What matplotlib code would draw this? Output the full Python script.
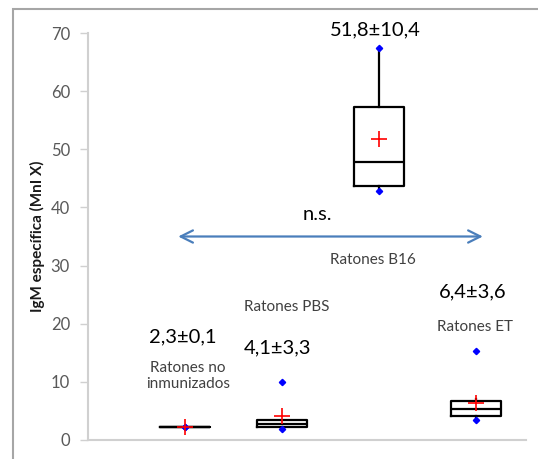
import matplotlib
matplotlib.use("Agg")
import matplotlib.pyplot as plt
from matplotlib.patches import Rectangle

# Box statistics per group
groups = ["Ratones no\ninmunizados", "Ratones PBS", "Ratones B16", "Ratones ET"]
q1 = [2.3, 2.2, 43.7, 4.1]
med = [2.3, 2.8, 47.8, 5.3]
q3 = [2.3, 3.5, 57.3, 6.7]
whisk_lo = [2.3, 1.9, 42.9, 3.4]
whisk_hi = [2.3, 3.5, 67.5, 7.0]
means = [2.3, 4.1, 51.8, 6.4]
sds = [0.1, 3.3, 10.4, 3.6]
# min / max points (blue)
min_pts = [2.3, 1.9, 42.9, 3.4]
max_pts = [2.3, 10.0, 67.5, 15.3]

positions = [1, 2, 3, 4]
mean_labels = [f"{m:.1f}±{s:.1f}".replace(".", ",") for m, s in zip(means, sds)]

plt.rcParams['font.family'] = ['Lato', 'DejaVu Sans']

fig = plt.figure(figsize=(5.38, 4.59), dpi=100)
ax = fig.add_axes([88 / 538, 1 - 440 / 459, (526 - 88) / 538, (440 - 33) / 459])

stats = []
for i in range(4):
    stats.append(dict(med=med[i], q1=q1[i], q3=q3[i], whislo=whisk_lo[i],
                      whishi=whisk_hi[i], fliers=[]))

ax.bxp(stats, positions=positions, widths=0.515, showfliers=False, showcaps=False,
       boxprops=dict(color="black", lw=1.6),
       medianprops=dict(color="black", lw=1.6),
       whiskerprops=dict(color="black", lw=1.6))

ax.plot(positions, min_pts, "D", color="#0000ff", ms=3.2, zorder=4)
ax.plot(positions, max_pts, "D", color="#0000ff", ms=3.2, zorder=4)
ax.plot(positions, means, "+", color="#ff0000", ms=11, mew=1.2, zorder=5)

ax.set_xlim(0, 4.515)
ax.set_ylim(0, 70)
ax.set_yticks(range(0, 71, 10))
ax.set_xticks([])
for s in ["top", "right"]:
    ax.spines[s].set_visible(False)
for s in ["left", "bottom"]:
    ax.spines[s].set_color("#d0d0d0")
    ax.spines[s].set_linewidth(1.5)
ax.tick_params(axis="y", direction="out", length=6, width=1, color="#d0d0d0",
               labelcolor="#595959", labelsize=12, pad=7)
ax.set_ylabel("IgM específica (MnI X)", fontsize=11, fontweight="bold",
              color="#1a1a1a", labelpad=4)

# Mean ± SD labels
label_xy = [(0.98, 17.7), (1.95, 15.8), (2.96, 70.6), (3.97, 25.5)]
for (x, y), t in zip(label_xy, mean_labels):
    ax.text(x, y, t, ha="center", va="center", fontsize=14.5, color="black", clip_on=False)

# Group labels
group_xy = [(1.03, 11.0), (2.05, 22.9), (2.94, 31.0), (3.99, 19.4)]
for (x, y), t in zip(group_xy, groups):
    ax.text(x, y, t, ha="center", va="center", fontsize=11, color="#404040",
            linespacing=1.25)

# Non-significant comparison arrow
ax.annotate("", xy=(4.07, 35), xytext=(0.93, 35),
            arrowprops=dict(arrowstyle="<->", color="#4a7ebb", lw=1.6,
                            mutation_scale=22, shrinkA=0, shrinkB=0))
ax.text(2.36, 38.7, "n.s.", ha="center", va="center", fontsize=14.5, color="black")

# Outer frame
fig.patches.append(Rectangle((13 / 538, -0.05), 1.1, 1 - 9 / 459 + 0.05,
                             transform=fig.transFigure, fill=False,
                             edgecolor="#a6a6a6", lw=1.5))

fig.savefig("out.png", dpi=100)
